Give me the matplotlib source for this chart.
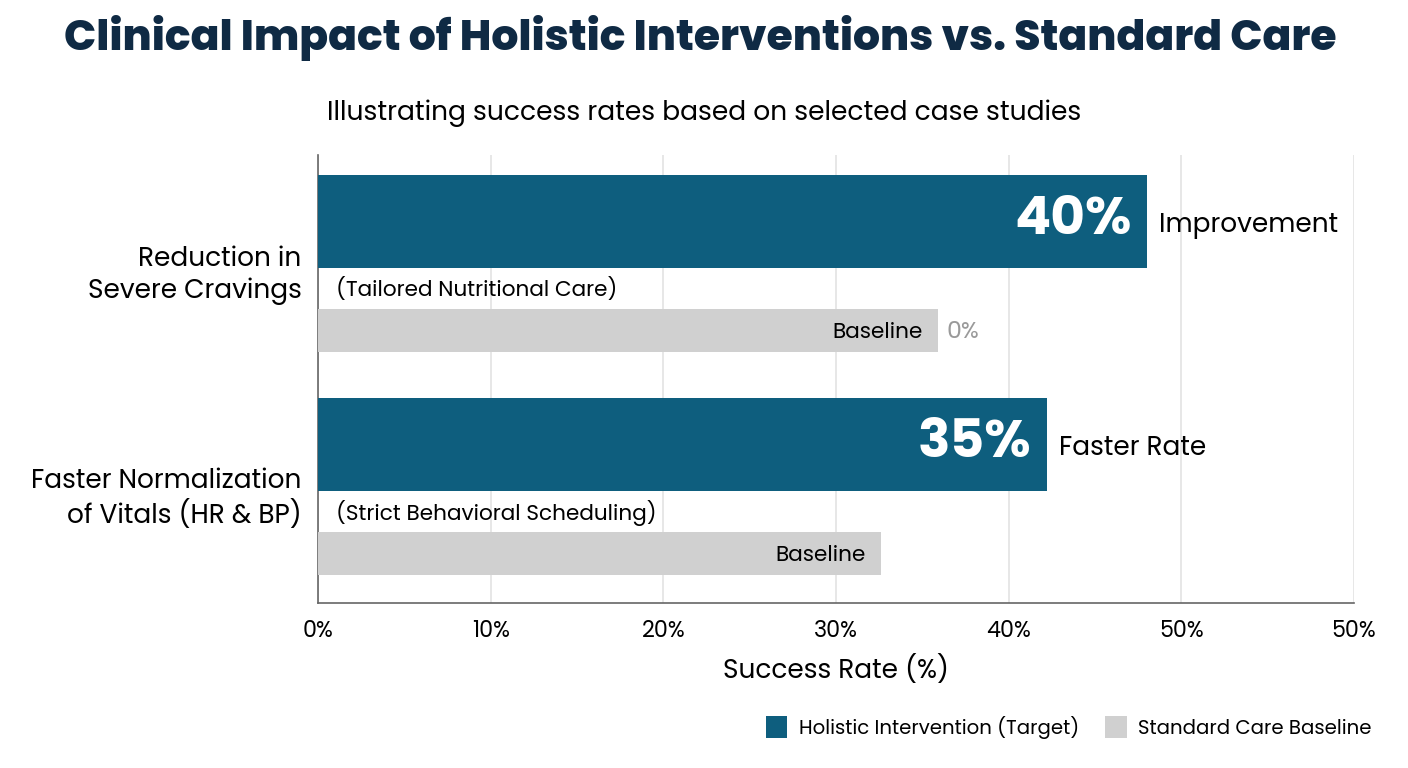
import matplotlib.pyplot as plt
import numpy as np

plt.rcParams['font.family'] = ['Poppins', 'Lato', 'DejaVu Sans']

################
# chart values #
################
categories = ['Reduction in\nSevere Cravings', 'Faster Normalization\nof Vitals (HR & BP)']
holistic = [48.0, 42.2]
baseline = [35.9, 32.6]
big_labels = ['40%', '35%']
side_labels = ['Improvement', 'Faster Rate']
notes = ['(Tailored Nutritional Care)', '(Strict Behavioral Scheduling)']
baseline_tags = ['0%', '']
xticks = [0, 10, 20, 30, 40, 50, 60]
xtick_labels = ['0%', '10%', '20%', '30%', '40%', '50%', '50%']

navy = '#0f2a44'
teal = '#0e5e7e'
grey = '#d0d0d0'

fig = plt.figure(figsize=(14.08, 7.68), dpi=100)
ax = fig.add_axes([0.2259, 0.2148, 0.7357, 0.5833])

centers = 1.15 + np.arange(len(categories)) * 2.23
y_hol = centers - 0.485
y_base = centers + 0.605

ax.barh(y_hol, holistic, height=0.93, color=teal, zorder=3, label='Holistic Intervention (Target)')
ax.barh(y_base, baseline, height=0.43, color=grey, zorder=3, label='Standard Care Baseline')

for i in range(len(categories)):
    ax.annotate(big_labels[i], (holistic[i], y_hol[i]), xytext=(-11, 0), textcoords='offset points',
                ha='right', va='center', color='white', fontsize=38.5, fontweight='bold', zorder=4)
    ax.annotate(side_labels[i], (holistic[i], y_hol[i]), xytext=(9, -3), textcoords='offset points',
                ha='left', va='center', color='black', fontsize=19, zorder=4)
    ax.annotate('Baseline', (baseline[i], y_base[i]), xytext=(-11, -1.5), textcoords='offset points',
                ha='right', va='center', color='black', fontsize=15.6, zorder=4)
    if baseline_tags[i]:
        ax.annotate(baseline_tags[i], (baseline[i], y_base[i]), xytext=(6, -1.5), textcoords='offset points',
                    ha='left', va='center', color='#9a9a9a', fontsize=17, zorder=4)
    ax.annotate(notes[i], (0, centers[i] + 0.18), xytext=(13, -1.5), textcoords='offset points',
                ha='left', va='center', color='black', fontsize=15.6, zorder=4)

ax.set_xlim(0, 60)
ax.set_ylim(4.48, 0)
ax.set_xticks(xticks)
ax.set_xticklabels(xtick_labels, fontsize=16)
ax.set_yticks(centers)
ax.set_yticklabels(categories, fontsize=19, ha='right', multialignment='right')
ax.tick_params(axis='both', length=0)
ax.tick_params(axis='x', pad=12)
ax.tick_params(axis='y', pad=12)
ax.grid(axis='x', color='#e3e3e3', lw=1.2, zorder=0)
ax.grid(axis='y', visible=False)
for s in ['top', 'right']:
    ax.spines[s].set_visible(False)
ax.spines['left'].set_color('#666666')
ax.spines['bottom'].set_color('#666666')
ax.spines['left'].set_linewidth(1.2)
ax.spines['bottom'].set_linewidth(1.2)
ax.set_xlabel('Success Rate (%)', fontsize=19, labelpad=9)

fig.text(0.497, 0.951, 'Clinical Impact of Holistic Interventions vs. Standard Care',
         ha='center', va='center', fontsize=30.6, fontweight='heavy', color=navy)
fig.text(0.5, 0.852, 'Illustrating success rates based on selected case studies',
         ha='center', va='center', fontsize=19.1, color='black')

fig.legend(loc='center right', bbox_to_anchor=(0.987, 0.053), ncol=2, frameon=False,
           fontsize=14.2, handlelength=1.1, handleheight=1.3, columnspacing=1.3, handletextpad=0.6)

fig.savefig('out.png', dpi=100, facecolor='white')
